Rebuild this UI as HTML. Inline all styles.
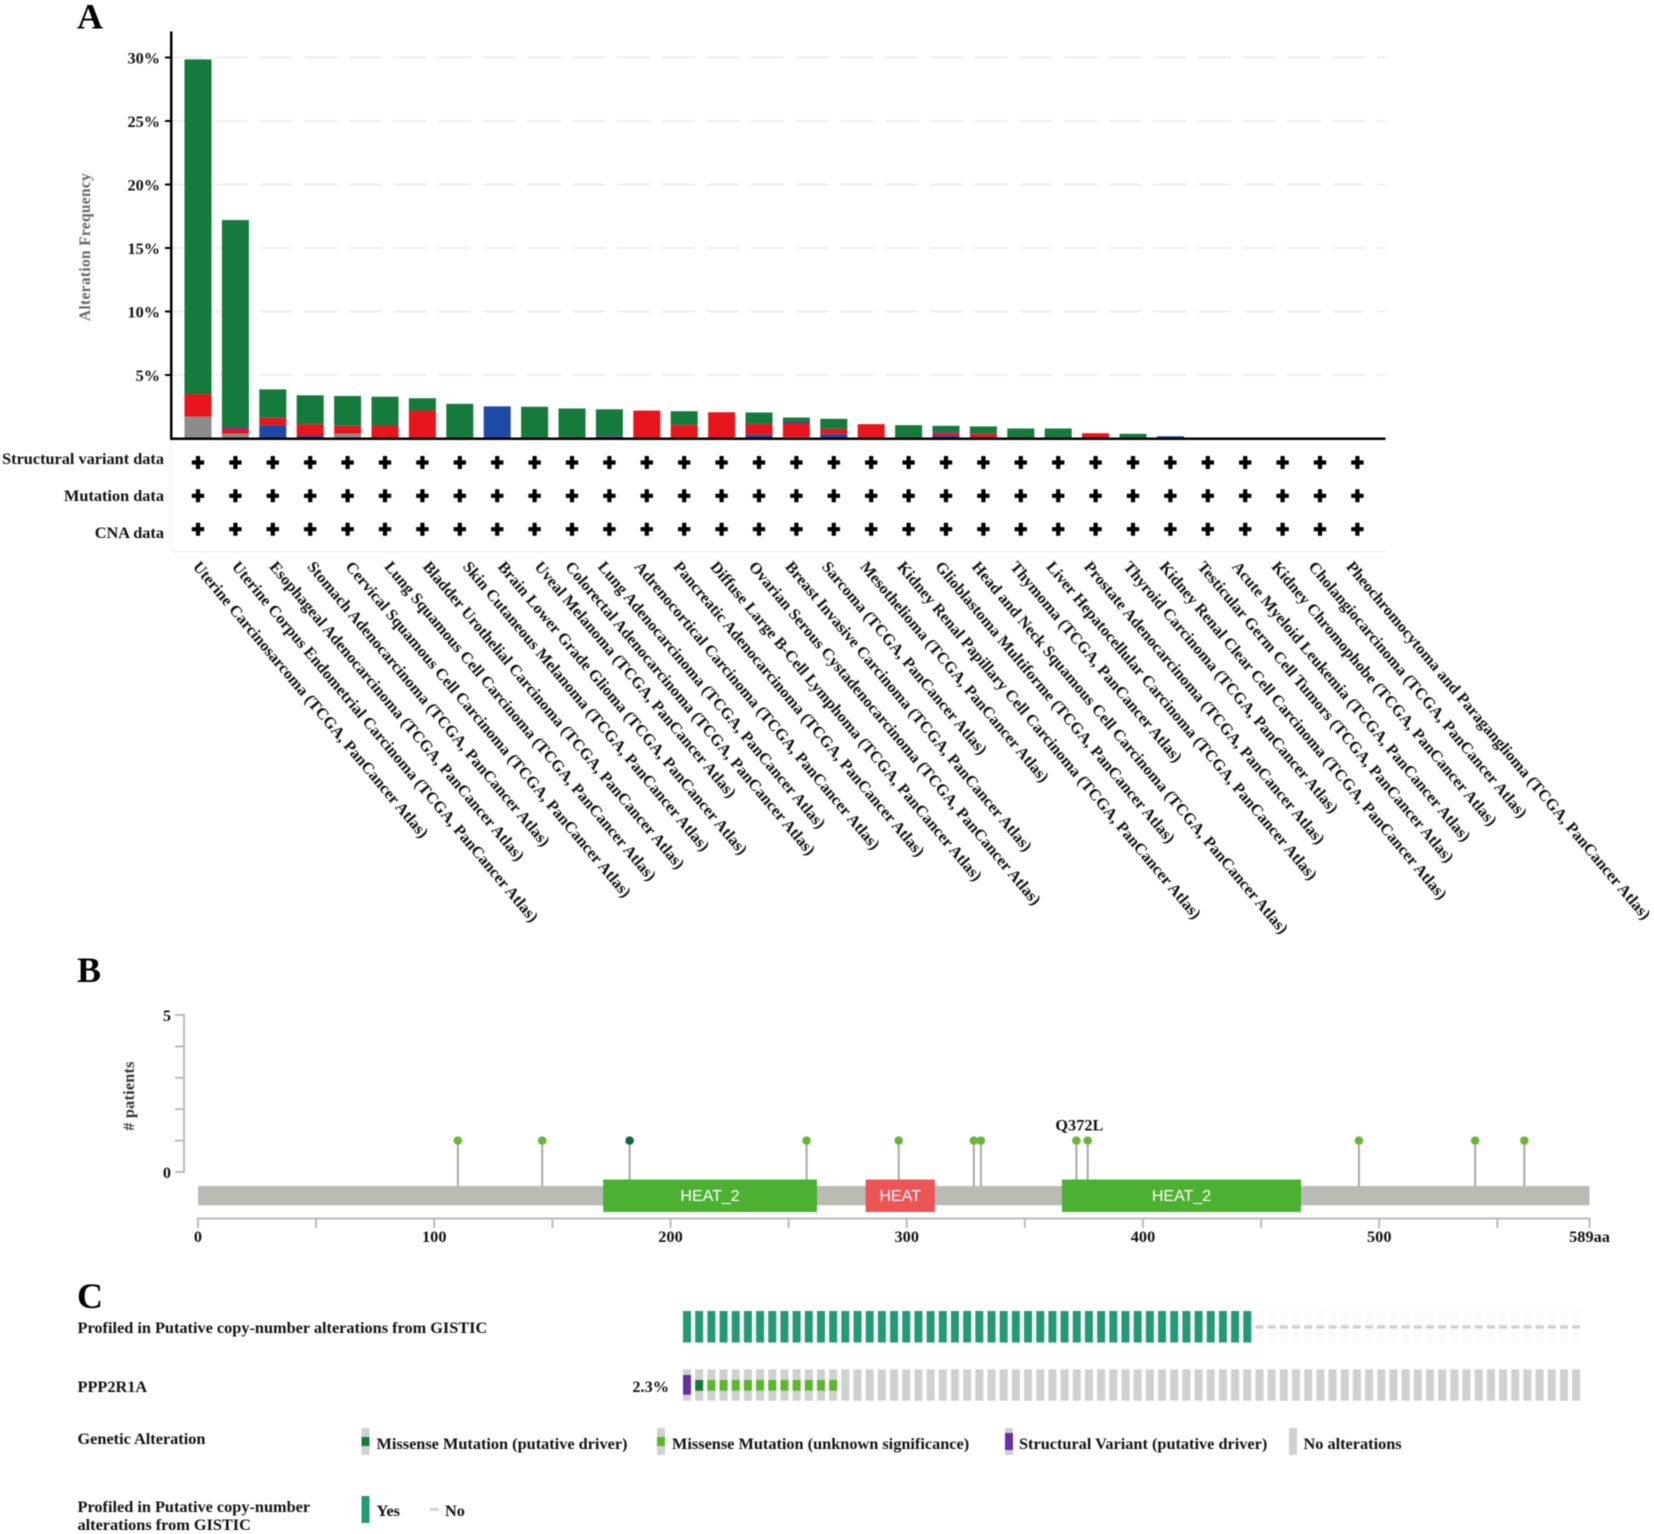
<!DOCTYPE html>
<html lang="en">
<head>
<meta charset="utf-8">
<title>PPP2R1A alteration summary</title>
<style>
  html, body { margin: 0; padding: 0; background: #fff; }
  #figure { display: block; filter: blur(0.4px); }
  text { font-family: "Liberation Serif", serif; font-weight: bold; fill: #111; }
  .panel { font-size: 36px; fill: #000; }
  .lab { font-size: 16.3px; }
  .cat { font-size: 16.2px; }
  .dom { font-family: "Liberation Sans", sans-serif; font-weight: normal; font-size: 16px; fill: #fff; }
</style>
</head>
<body>
<svg id="figure" xmlns="http://www.w3.org/2000/svg" width="1654" height="1534" viewBox="0 0 1654 1534">
  <rect x="0" y="0" width="1654" height="1534" fill="#fff"/>

  <text class="panel" x="77" y="28.5">A</text>
  <text class="panel" x="77" y="982">B</text>
  <text class="panel" x="77" y="1308">C</text>

  <g id="barGrid"></g>
  <rect x="171" y="440" width="1" height="112" fill="#f0f0f0"/>
  <rect x="171" y="551" width="1214" height="1.5" fill="#f0f0f0"/>
  <g id="barYTicks"></g>
  <g id="bars"></g>
  <rect x="170" y="31.5" width="2.5" height="408.5" fill="#000"/>
  <rect x="170" y="437.5" width="1215.5" height="2.5" fill="#000"/>
  <text class="lab" transform="translate(90 247) rotate(-90)" text-anchor="middle" style="fill:#666;font-size:15.5px;letter-spacing:.3px">Alteration Frequency</text>

  <text class="lab" x="164" y="464" text-anchor="end">Structural variant data</text>
  <text class="lab" x="164" y="501" text-anchor="end">Mutation data</text>
  <text class="lab" x="164" y="538" text-anchor="end">CNA data</text>
  <g id="plusMarks"></g>
  <g id="catLabels"></g>

  <g id="lollipopAxisY"></g>
  <text class="lab" transform="translate(134 1096) rotate(-90)" text-anchor="middle" style="fill:#333;letter-spacing:.2px"># patients</text>
  <g id="stems"></g>
  <g id="protein"></g>
  <g id="heads"></g>
  <g id="lollipopAxisX"></g>

  <text class="lab" x="77.5" y="1333">Profiled in Putative copy-number alterations from GISTIC</text>
  <text class="lab" x="77.5" y="1392">PPP2R1A</text>
  <text class="lab" x="669" y="1392" text-anchor="end">2.3%</text>
  <g id="onco"></g>

  <text class="lab" x="77.5" y="1444">Genetic Alteration</text>
  <g>
    <rect x="361.5" y="1428" width="8" height="27" fill="#d0d0d0"/>
    <rect x="361.5" y="1437" width="8" height="9" fill="#127a3a"/>
    <text class="lab" x="376.5" y="1449">Missense Mutation (putative driver)</text>
  </g>
  <g>
    <rect x="657" y="1428" width="8" height="27" fill="#d0d0d0"/>
    <rect x="657" y="1437" width="8" height="9" fill="#5ab82a"/>
    <text class="lab" x="672" y="1449">Missense Mutation (unknown significance)</text>
  </g>
  <g>
    <rect x="1005" y="1428" width="8" height="27" fill="#d0d0d0"/>
    <rect x="1005" y="1433" width="8" height="17" fill="#6a2fa0"/>
    <text class="lab" x="1019" y="1449">Structural Variant (putative driver)</text>
  </g>
  <g>
    <rect x="1289" y="1428" width="8" height="27" fill="#d0d0d0"/>
    <text class="lab" x="1303.5" y="1449">No alterations</text>
  </g>

  <text class="lab" x="77.5" y="1512">Profiled in Putative copy-number</text>
  <text class="lab" x="77.5" y="1530">alterations from GISTIC</text>
  <rect x="361.5" y="1496" width="8" height="27" fill="#239a77"/>
  <text class="lab" x="376.5" y="1516">Yes</text>
  <rect x="430" y="1508" width="9" height="3" fill="#d0d0d0"/>
  <text class="lab" x="445" y="1516">No</text>
</svg>

<script>
/* ---------- Panel A data ---------- */
var categories = [
  "Uterine Carcinosarcoma (TCGA, PanCancer Atlas)",
  "Uterine Corpus Endometrial Carcinoma (TCGA, PanCancer Atlas)",
  "Esophageal Adenocarcinoma (TCGA, PanCancer Atlas)",
  "Stomach Adenocarcinoma (TCGA, PanCancer Atlas)",
  "Cervical Squamous Cell Carcinoma (TCGA, PanCancer Atlas)",
  "Lung Squamous Cell Carcinoma (TCGA, PanCancer Atlas)",
  "Bladder Urothelial Carcinoma (TCGA, PanCancer Atlas)",
  "Skin Cutaneous Melanoma (TCGA, PanCancer Atlas)",
  "Brain Lower Grade Glioma (TCGA, PanCancer Atlas)",
  "Uveal Melanoma (TCGA, PanCancer Atlas)",
  "Colorectal Adenocarcinoma (TCGA, PanCancer Atlas)",
  "Lung Adenocarcinoma (TCGA, PanCancer Atlas)",
  "Adrenocortical Carcinoma (TCGA, PanCancer Atlas)",
  "Pancreatic Adenocarcinoma (TCGA, PanCancer Atlas)",
  "Diffuse Large B-Cell Lymphoma (TCGA, PanCancer Atlas)",
  "Ovarian Serous Cystadenocarcinoma (TCGA, PanCancer Atlas)",
  "Breast Invasive Carcinoma (TCGA, PanCancer Atlas)",
  "Sarcoma (TCGA, PanCancer Atlas)",
  "Mesothelioma (TCGA, PanCancer Atlas)",
  "Kidney Renal Papillary Cell Carcinoma (TCGA, PanCancer Atlas)",
  "Glioblastoma Multiforme (TCGA, PanCancer Atlas)",
  "Head and Neck Squamous Cell Carcinoma (TCGA, PanCancer Atlas)",
  "Thymoma (TCGA, PanCancer Atlas)",
  "Liver Hepatocellular Carcinoma (TCGA, PanCancer Atlas)",
  "Prostate Adenocarcinoma (TCGA, PanCancer Atlas)",
  "Thyroid Carcinoma (TCGA, PanCancer Atlas)",
  "Kidney Renal Clear Cell Carcinoma (TCGA, PanCancer Atlas)",
  "Testicular Germ Cell Tumors (TCGA, PanCancer Atlas)",
  "Acute Myeloid Leukemia (TCGA, PanCancer Atlas)",
  "Kidney Chromophobe (TCGA, PanCancer Atlas)",
  "Cholangiocarcinoma (TCGA, PanCancer Atlas)",
  "Pheochromocytoma and Paraganglioma (TCGA, PanCancer Atlas)"
];
var multipleAlterations = [1.72,0.38,0,0,0.38,0,0,0,0,0,0,0,0,0,0,0,0.1,0,0,0,0,0,0,0,0,0,0,0,0,0,0,0];
var deepDeletion = [0,0,1.05,0.2,0,0,0,0,2.53,0,0,0,0,0,0,0.3,0,0.34,0,0,0.2,0,0,0,0,0,0.18,0,0,0,0,0];
var amplification = [1.78,0.37,0.58,0.93,0.62,1.02,2.2,0,0,0,0,0,2.2,1.08,2.07,0.85,1.08,0.42,1.13,0,0.2,0.37,0,0,0.42,0,0,0,0,0,0,0];
var structuralVariant = [0,0.15,0,0,0,0,0,0,0,0,0,0.17,0,0,0,0,0.12,0,0,0,0.1,0,0,0,0,0,0,0,0,0,0,0];
var mutation = [26.35,16.3,2.24,2.27,2.35,2.27,0.97,2.73,0,2.5,2.36,2.13,0,1.07,0,0.9,0.35,0.79,0,1.05,0.5,0.58,0.79,0.79,0,0.37,0,0.04,0.04,0.03,0.03,0.02];
var yTickValues = [5,10,15,20,25,30];
var profileRows = ["structural-variant","mutation","cna"];

/* ---------- Panel B data ---------- */
var proteinLength = 589;
var domainNames = ["HEAT_2","HEAT","HEAT_2"];
var domainStarts = [171.5,282.6,365.7];
var domainEnds = [262,311.9,466.9];
var mutationPositions = [110,145.7,182.7,257.6,296.6,328.4,331.4,371.8,376.6,491.4,540.6,561.4];
var mutationCounts = [1,1,1,1,1,1,1,1,1,1,1,1];
var mutationDriver = [0,0,1,0,0,0,0,0,0,0,0,0];
var mutationLabels = ["","","","","","","","Q372L","","","",""];
var aaTicks = [0,50,100,150,200,250,300,350,400,450,500,550,589];
var aaTickLabels = ["0","","100","","200","","300","","400","","500","","589aa"];
var countTicks = [0,1,2,3,4,5];
var countTickLabels = ["0","","","","","5"];

/* ---------- Panel C data ---------- */
var profiledTrack = "YYYYYYYYYYYYYYYYYYYYYYYYYYYYYYYYYYYYYYYYYYYYYYYNNNNNNNNNNNNNNNNNNNNNNNNNNN".split("");
var alterationTrack = ("SDMMMMMMMMMMM" + "NNNNNNNNNN" + "NNNNNNNNNN" + "NNNNNNNNNN" + "NNNNNNNNNN" + "NNNNNNNNNN" + "NNNNNNNNNN" + "N").split("");

/* ---------- helpers ---------- */
var SVGNS = "http://www.w3.org/2000/svg";
function mk(parentId, tag, attrs, txt) {
  var el = document.createElementNS(SVGNS, tag);
  for (var k in attrs) { el.setAttribute(k, attrs[k]); }
  if (txt !== undefined) { el.textContent = txt; }
  document.getElementById(parentId).appendChild(el);
  return el;
}

/* ---------- Panel A ---------- */
function yA(v) { return 438.5 - v * 12.7; }
function xA(i) { return 198 + i * 37.4; }
var BAR_W = 27;

yTickValues.forEach(function (v) {
  var g = mk("barGrid", "line", {x1: 170, x2: 1385, y1: yA(v), y2: yA(v), stroke: "#eeeeee", "stroke-width": 2, "stroke-dasharray": "33 11.7"});
  
  
  var t = mk("barYTicks", "rect", {x: 165, y: yA(v) - 1, width: 6, height: 2, fill: "#000"});
  
  
  var l = mk("barYTicks", "text", {x: 160, y: yA(v) + 6, "text-anchor": "end", "class": "lab"}, v + "%");
  
  
});

var stackSeries = [
  {name: "multiple", values: multipleAlterations, color: "#8c8c8c"},
  {name: "deep-deletion", values: deepDeletion, color: "#1c4aa4"},
  {name: "amplification", values: amplification, color: "#e8161c"},
  {name: "structural-variant", values: structuralVariant, color: "#5b3a8c"},
  {name: "mutation", values: mutation, color: "#147b3c"}
];
/* layout only: the original figure's rotated labels were placed unevenly */
var labelNudge = [-5.9,-4.3,-4,-3.7,-2.8,-1.2,-0.3,2.3,-0.1,-0.8,-7.5,-12.3,-13,-11.4,-12.1,-10.9,-11.9,-12.7,-11.7,-12.1,-11.5,-12.3,-11.3,-12.7,-12.3,-10.2,-11.6,-11,-13.9,-11.8,-12.2,-11.9];
categories.forEach(function (c, i) {
  var base = 0;
  stackSeries.forEach(function (s) {
    var v = s.values[i];
    if (v > 0) {
      var r = mk("bars", "rect", {x: xA(i) - BAR_W / 2, y: yA(base + v), width: BAR_W, height: yA(base) - yA(base + v), fill: s.color});
      
      
      base += v;
    }
  });
  var rowY = [462.5, 495.8, 529.2];
  profileRows.forEach(function (rowName, r) {
    var p = mk("plusMarks", "path", {d: "M" + (xA(i) - 6.2) + " " + rowY[r] + "h12.4M" + xA(i) + " " + (rowY[r] - 6.5) + "v13", stroke: "#000", "stroke-width": 4.2, fill: "none"});
    
    
  });
  var ax = xA(i) + labelNudge[i], ay = 567;
  var lab = mk("catLabels", "text", {x: ax, y: ay, transform: "rotate(49.9 " + ax + " " + ay + ")", "class": "cat"}, c);
  
  
});

/* ---------- Panel B ---------- */
function xB(aa) { return 198 + aa * 2.3625; }
function yB(n) { return 1172 - n * 31.4; }

var yl = mk("lollipopAxisY", "rect", {x: 183, y: yB(5) - 1, width: 2, height: yB(0) - yB(5) + 2, fill: "#bbbbbb"});


countTicks.forEach(function (n, i) {
  var t = mk("lollipopAxisY", "rect", {x: 175, y: yB(n) - 1, width: 9, height: 2, fill: "#bbbbbb"});
  
  
  if (countTickLabels[i]) {
    var l = mk("lollipopAxisY", "text", {x: 171, y: yB(n) + 6, "text-anchor": "end", "class": "lab"}, countTickLabels[i]);
    
    
  }
});

mutationPositions.forEach(function (aa, i) {
  var s = mk("stems", "line", {x1: xB(aa), x2: xB(aa), y1: yB(mutationCounts[i]), y2: 1186, stroke: "#a9aaa2", "stroke-width": 2});
  
  
  var h = mk("heads", "ellipse", {cx: xB(aa), cy: yB(mutationCounts[i]), rx: 4.3, ry: 4.2, fill: mutationDriver[i] ? "#0e6b3b" : "#69b53c"});
  
  
  if (mutationLabels[i]) {
    var l = mk("heads", "text", {x: xB(aa) + 3, y: yB(mutationCounts[i]) - 10, "text-anchor": "middle", "class": "lab"}, mutationLabels[i]);
    
    
  }
});

var seq = mk("protein", "rect", {x: xB(0), y: 1186, width: xB(proteinLength) - xB(0), height: 19.3, fill: "#b9bbb4"});


domainNames.forEach(function (n, i) {
  var w = xB(domainEnds[i]) - xB(domainStarts[i]);
  var d = mk("protein", "rect", {x: xB(domainStarts[i]), y: 1179.5, width: w, height: 32.5, fill: n === "HEAT" ? "#ec5555" : "#4cb132"});
  
  
  var t = mk("protein", "text", {x: xB(domainStarts[i]) + w / 2, y: 1201, "text-anchor": "middle", "class": "dom"}, n);
  
  
});

var xl = mk("lollipopAxisX", "rect", {x: xB(0) - 1, y: 1217.5, width: xB(proteinLength) - xB(0) + 2, height: 2, fill: "#bbbbbb"});


aaTicks.forEach(function (aa, i) {
  var t = mk("lollipopAxisX", "rect", {x: xB(aa) - 1, y: 1218, width: 2, height: 10, fill: "#bbbbbb"});
  
  
  if (aaTickLabels[i]) {
    var l = mk("lollipopAxisX", "text", {x: xB(aa), y: 1242, "text-anchor": "middle", "class": "lab"}, aaTickLabels[i]);
    
    
  }
});

/* ---------- Panel C ---------- */
function xC(i) { return 683 + i * 12.18; }
var CELL_W = 8;
profiledTrack.forEach(function (v, i) {
  if (v === "Y") {
    var c = mk("onco", "rect", {x: xC(i), y: 1311, width: CELL_W, height: 31.5, fill: "#239a77"});
    
    
  } else {
    var o = mk("onco", "rect", {x: xC(i), y: 1311, width: CELL_W, height: 31.5, fill: "#fbfbfb"});
    
    
    var d = mk("onco", "rect", {x: xC(i), y: 1325.2, width: CELL_W, height: 3.4, fill: "#d0d0d0"});
    
    
  }
});
alterationTrack.forEach(function (v, i) {
  var g = mk("onco", "rect", {x: xC(i), y: 1369.3, width: CELL_W, height: 31.4, fill: "#d0d0d0"});
  
  
  if (v === "S") {
    var s = mk("onco", "rect", {x: xC(i), y: 1375, width: CELL_W, height: 19.7, fill: "#6a2fa0"});
    
    
  } else if (v === "D" || v === "M") {
    var m = mk("onco", "rect", {x: xC(i), y: 1380, width: CELL_W, height: 10.7, fill: v === "D" ? "#127a3a" : "#5ab82a"});
    
    
  }
});
</script>
</body>
</html>
